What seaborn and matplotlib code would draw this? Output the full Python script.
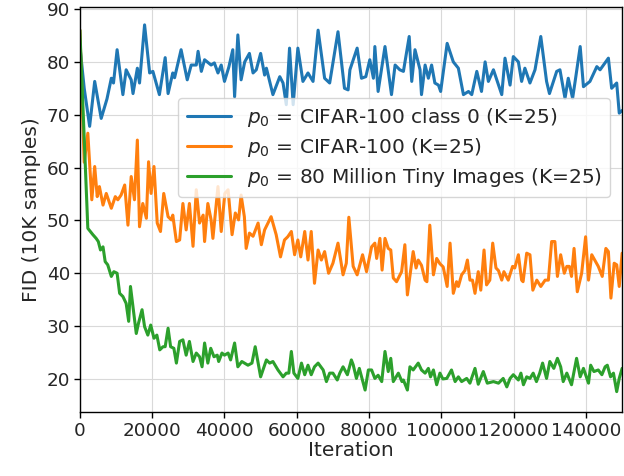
import numpy as np
import pandas as pd
import matplotlib
matplotlib.use("Agg")
import matplotlib.pyplot as plt
import seaborn as sns

# ---- data (iteration in thousands, FID) ----
blue_iter = [0, 1.2, 2.7, 4.1, 5.9, 7.5, 8.7, 9.3, 10.3, 11.9, 12.8, 14.2, 14.7, 15.9, 16.5, 17.9, 19.3, 20.2, 22, 23.6,
             24.4, 25.7, 26.2, 28, 29.7, 30.8, 32.2, 32.7, 33.6, 34.5, 36.3, 37.2, 38.2, 39.1, 40, 41.2, 42.3, 42.8, 43.7, 44.6,
             45.6, 46.9, 47.9, 48.8, 50, 51.1, 51.6, 53.4, 55.3, 56.2, 57.1, 58, 59, 60.3, 61.7, 63.1, 64.5, 65.9, 67.7, 69.1,
             71.4, 73.2, 74.2, 74.7, 76.7, 77.9, 79.1, 80.2, 81.2, 81.6, 82.5, 84.4, 86.2, 87.2, 88.5, 89.5, 91.1, 91.8, 92.7, 94.1,
             94.5, 95.5, 96.4, 97.3, 98.2, 99.2, 99.8, 101.6, 103.3, 104.7, 106.1, 107.5, 108.4, 109.8, 111.1, 112.1, 113, 114.4, 116.7, 117.6,
             119, 119.9, 121.3, 122.2, 123.1, 124.5, 125.9, 127.5, 129.1, 129.9, 131.9, 132.8, 134.2, 135.1, 136.3, 137, 138.4, 139.3, 141.1, 143,
             143.9, 146.2, 147.1, 148.5, 149.2, 150]
blue_fid = [83, 75, 67.8, 76.3, 69.3, 73, 76.9, 76, 82.3, 73.8, 78.5, 76.6, 74, 78.8, 76, 87, 77.9, 78.2, 73.8, 80.8,
            74, 77.9, 77, 82.3, 76.6, 79.4, 79.4, 82, 78.2, 80.4, 79.4, 79.8, 77.9, 79.4, 76.3, 79, 82.3, 73.4, 85.1, 76.6,
            80, 81.6, 77.9, 78.5, 81.6, 77.5, 78.8, 73.8, 77.2, 76, 71.9, 82.6, 71.9, 82.6, 76.3, 77.9, 76.3, 86, 76.9, 76,
            85.7, 75, 74.7, 78.5, 82.6, 76.9, 77.2, 80.4, 76.9, 82.9, 74.4, 82.9, 73.8, 79.4, 78.5, 78.2, 84.8, 76.3, 82.3, 78.5,
            73.8, 79.4, 76.9, 79.4, 76, 75.6, 74.4, 83.5, 80, 78.8, 73.8, 74.4, 73.8, 78.2, 74.4, 80, 76.3, 78.5, 73.8, 80.7,
            75.6, 81, 80, 76.3, 78.8, 76, 78.5, 84.8, 76.3, 74, 78.2, 78.5, 73.1, 76.9, 73.1, 76.3, 82.9, 75.3, 76.3, 79.1,
            78.5, 80.7, 75, 76, 70.3, 70.8]

orange_iter = [0, 1.2, 2.2, 3.3, 4.1, 4.8, 5.4, 6.4, 7.3, 7.9, 8.7, 9.8, 10.5, 11.4, 12.4, 13.3, 14.2, 15.1, 15.9, 16.5,
               17.4, 18.4, 19, 19.7, 20.5, 21.4, 22.3, 23.2, 24.4, 25.3, 25.7, 26.7, 27.6, 28.5, 29.4, 30.3, 31.3, 32.2, 33.1, 34.1,
               34.5, 35.4, 36.3, 36.8, 38.2, 39.1, 40.1, 41, 42.1, 43, 43.9, 44.6, 45.5, 46, 46.9, 47.9, 49.3, 50.2, 51.1, 52.9,
               54.3, 55.5, 56.6, 57.5, 58.5, 59.4, 60.3, 61.1, 62.2, 63.1, 64, 64.9, 65.9, 66.8, 67.7, 68.8, 70, 71.4, 72.8, 73.7,
               74.4, 75.6, 76.7, 78.2, 79.3, 80.7, 81.6, 82.1, 83, 83.6, 84.4, 85.3, 86, 86.7, 87.6, 89, 89.9, 90.6, 92.2, 93,
               93.6, 94.5, 95.5, 96, 96.8, 97.8, 98.7, 99.6, 100.5, 101.6, 102.4, 103.3, 104.2, 104.7, 105.6, 106.5, 107.2, 107.9, 108.6, 109.3,
               110.2, 110.9, 111.8, 112.5, 113.4, 114.2, 115.1, 115.8, 116.7, 117.3, 118.5, 119.7, 120.3, 121.3, 122.2, 122.6, 123.6, 124.5, 125.3, 126.4,
               127.5, 128.7, 129.6, 130.5, 131.4, 132.1, 133, 134, 134.7, 135.4, 136, 136.7, 137.6, 138.8, 139.9, 140.7, 141.6, 143.4, 144.5, 145.5,
               146.2, 146.9, 147.8, 148.5, 149.2, 150]
orange_fid = [86, 61, 66.5, 53.9, 60.2, 54.5, 56.4, 52.9, 55.1, 53.9, 52.3, 54.5, 53.9, 54.8, 56.7, 49.1, 58.3, 53.9, 65.2, 48.8,
              53.2, 50.4, 61.1, 55.1, 60.2, 49.5, 47.9, 55.1, 50.7, 50.1, 51, 46, 46.3, 53.2, 48.2, 53.2, 45.1, 55.8, 49.5, 51,
              46, 53.2, 50.1, 46.6, 56.4, 47.9, 55.1, 55.8, 47.3, 51.4, 50.1, 54.8, 50.7, 44.7, 47.6, 47, 49.5, 45.4, 48.2, 50.7,
              47.3, 43.1, 46.3, 46.9, 47.9, 43.5, 46.3, 43.1, 47.9, 42.5, 47.9, 38.1, 44.4, 42.5, 44.1, 40, 41.9, 45.7, 39.7, 41.9,
              50.6, 41.3, 39.7, 43.5, 40.3, 45, 45.7, 42.8, 46.6, 40.6, 46.6, 44.7, 44.4, 39.1, 38.4, 40.3, 45.4, 35.9, 44.1, 41,
              42.5, 41.5, 38.7, 38.4, 49.1, 39.7, 42.8, 41.8, 41.2, 37.5, 45.7, 36.2, 38.4, 37.5, 39.7, 40.5, 42.5, 38.7, 38.7, 36.2,
              40.3, 36.8, 44.4, 37.8, 38.7, 45.7, 41, 40.5, 38.7, 40.3, 38.7, 41.3, 41, 43.5, 38.7, 38.4, 43.8, 43.5, 36.8, 38.7,
              37.5, 38.7, 38.7, 46, 46, 39.4, 43.5, 40, 41.3, 41.3, 39.4, 44.7, 36.5, 40, 46.9, 38.7, 43.5, 41.3, 39.4, 44.7,
              44.1, 35.3, 41.9, 41.6, 37.5, 43.8]

green_iter = [0, 2.2, 3.6, 4.5, 5.1, 5.7, 6.4, 7, 7.7, 8.7, 9.4, 10.3, 11, 11.9, 12.8, 13.5, 14, 14.9, 15.6, 16.2,
              17.2, 17.9, 18.8, 19.6, 20.5, 21.3, 22.1, 23, 23.6, 24.4, 25.1, 26, 26.7, 27.6, 28.5, 29.4, 30.3, 31.3, 32.2, 33.1,
              33.8, 34.5, 35.4, 36.2, 37.1, 38, 38.4, 39.3, 40, 41, 41.7, 42.8, 43.7, 44.8, 46.5, 47.6, 48.5, 50, 51.6, 52.5,
              53.4, 54.8, 56.2, 57.1, 57.8, 58.5, 59.2, 60.3, 61.3, 62.2, 63.1, 64, 64.9, 65.9, 67.3, 68.2, 69.1, 70, 71.2, 71.9,
              72.8, 74, 75.1, 75.6, 76.5, 77.3, 78.9, 79.8, 80.7, 81.6, 82.5, 83.5, 84.4, 85.3, 86, 86.7, 88.1, 89.1, 89.5, 90.6,
              91.3, 92.2, 93.6, 94.5, 95.5, 96.4, 97, 97.8, 98.7, 99.6, 100.4, 101.5, 102.8, 103.8, 104.7, 105.6, 107, 107.9, 109.3, 110.2,
              111.6, 112.7, 114.4, 115.8, 117.1, 118.1, 119, 119.9, 121.3, 122, 122.7, 123.6, 124.5, 125.4, 126.3, 127.2, 128, 129.1, 130, 131.1,
              132.1, 133, 133.7, 134.7, 136, 137.4, 138.4, 139.3, 140.7, 141.3, 142.2, 143.4, 144.4, 145.3, 145.9, 146.8, 147.6, 148.5, 149.2, 150]
green_fid = [86, 48.5, 47.3, 46.6, 46, 44.4, 45, 42.2, 41.6, 39.4, 40.3, 40, 36.2, 35.6, 34.3, 30.9, 37.5, 32.4, 28.6, 30.5,
             33.1, 29.9, 28.3, 30.2, 27.7, 28.3, 25.5, 26.1, 26.1, 29.6, 26.1, 25.8, 23, 27.1, 27.4, 24.5, 27.1, 23.3, 24.9, 24.2,
             22.3, 26.8, 23, 25.8, 24.2, 24.5, 23.3, 24.9, 24.5, 24.9, 23.6, 26.8, 22.3, 23.3, 22.6, 23, 26.1, 20.4, 23.6, 23,
             23.3, 21.7, 20.4, 21.1, 21.1, 25.2, 21.1, 20.1, 23, 20.8, 22.6, 20.8, 22.3, 23, 21.7, 19.5, 21.1, 21.1, 19.8, 21.1,
             22.3, 20.8, 23.6, 22.7, 20.1, 22, 17.9, 21.7, 21.7, 20.1, 20.7, 19.5, 25.2, 21.4, 23.9, 19.5, 21.1, 19.5, 19.8, 17.9,
             22.3, 21.7, 23, 21.7, 21.1, 22, 20.4, 21.7, 18.9, 21.1, 20, 20.1, 21.7, 19.5, 20.4, 19.5, 20.1, 19.2, 22, 19,
             21.4, 19.2, 19.5, 19.2, 20.1, 18.5, 20.1, 20.8, 19.8, 21.1, 18.9, 20.4, 20.1, 21.1, 19.5, 21.1, 23, 20.1, 23.3, 22,
             23.9, 22.3, 19.5, 21.1, 18.9, 23.9, 20.4, 22, 19.2, 22.6, 21.4, 21.7, 20.8, 22.3, 22.6, 20.4, 21.1, 17.6, 20.1, 22]

labels = [r"$p_0$ = CIFAR-100 class 0 (K=25)",
          r"$p_0$ = CIFAR-100 (K=25)",
          r"$p_0$ = 80 Million Tiny Images (K=25)"]
colors = ["#1f77b4", "#ff7f0e", "#2ca02c"]

xticks = [0, 20000, 40000, 60000, 80000, 100000, 120000, 140000]
yticks = [20, 30, 40, 50, 60, 70, 80, 90]

frames = []
for lab, it, fid in zip(labels, [blue_iter, orange_iter, green_iter], [blue_fid, orange_fid, green_fid]):
    frames.append(pd.DataFrame({"Iteration": np.array(it) * 1000, "FID": fid, "series": lab}))
df = pd.concat(frames, ignore_index=True)

sns.set_style("whitegrid", {"axes.edgecolor": "black", "grid.color": "#d9d9d9",
                            "xtick.bottom": True, "ytick.left": True})
plt.rcParams["font.family"] = ["DejaVu Sans"]
plt.rcParams["mathtext.fontset"] = "dejavusans"

fig = plt.figure(figsize=(6.24, 4.76), dpi=100)
ax = fig.add_axes([0.128, 0.1345, 0.869, 0.851])

sns.lineplot(data=df, x="Iteration", y="FID", hue="series", hue_order=labels,
             palette=colors, linewidth=2.2, estimator=None, sort=False, ax=ax)

ax.set_xlim(0, 150000)
ax.set_ylim(13.75, 90.4)
ax.set_xticks(xticks)
ax.set_xticklabels([str(t) for t in xticks])
ax.set_yticks(yticks)
ax.set_xlabel("Iteration", fontsize=14.5, labelpad=1)
ax.set_ylabel("FID (10K samples)", fontsize=14.5, labelpad=4)
ax.tick_params(axis="both", labelsize=13.2, length=4, width=1, color="black", pad=3)
for s in ax.spines.values():
    s.set_color("black")
    s.set_linewidth(1.0)

leg0 = ax.get_legend()
handles = leg0.legend_handles
texts = [t.get_text() for t in leg0.texts]
leg0.remove()
leg = ax.legend(handles, texts, loc="upper right", bbox_to_anchor=(0.985, 0.785),
                fontsize=14.5, frameon=True, framealpha=0.8, borderaxespad=0.2,
                handlelength=2.2, labelspacing=0.35)
leg.get_frame().set_edgecolor("#cccccc")
for h in leg.legend_handles:
    h.set_linewidth(2.2)

fig.savefig("out.png", dpi=100)
